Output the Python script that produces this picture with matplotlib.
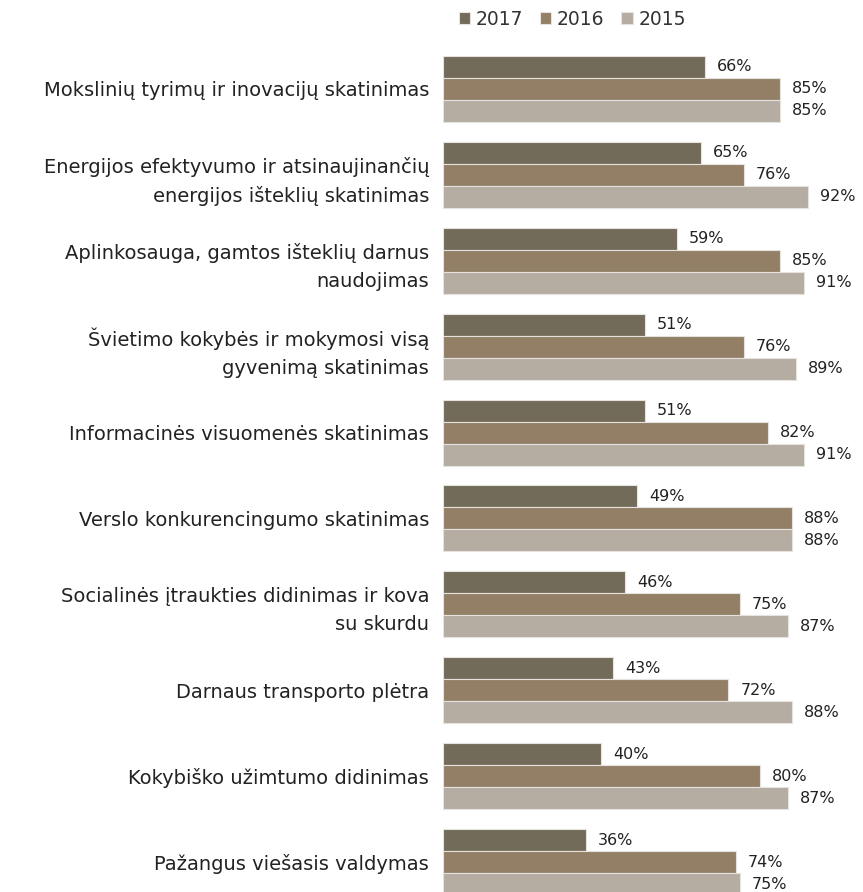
import matplotlib.pyplot as plt
import numpy as np

plt.rcParams['font.family'] = ['DejaVu Sans']

categories = [
    "Mokslinių tyrimų ir inovacijų skatinimas",
    "Energijos efektyvumo ir atsinaujinančių\nenergijos išteklių skatinimas",
    "Aplinkosauga, gamtos išteklių darnus\nnaudojimas",
    "Švietimo kokybės ir mokymosi visą\ngyvenimą skatinimas",
    "Informacinės visuomenės skatinimas",
    "Verslo konkurencingumo skatinimas",
    "Socialinės įtraukties didinimas ir kova\nsu skurdu",
    "Darnaus transporto plėtra",
    "Kokybiško užimtumo didinimas",
    "Pažangus viešasis valdymas",
]
v2017 = [66, 65, 59, 51, 51, 49, 46, 43, 40, 36]
v2016 = [85, 76, 85, 76, 82, 88, 75, 72, 80, 74]
v2015 = [85, 92, 91, 89, 91, 88, 87, 88, 87, 75]

series = [("2017", v2017, "#736b59"), ("2016", v2016, "#927f66"), ("2015", v2015, "#b5ada2")]

fig = plt.figure(figsize=(8.63, 8.92), dpi=100)
ax = fig.add_axes([443 / 863, 0, 420 / 863, 852 / 892])

n = len(categories)
y = np.arange(n)[::-1].astype(float)
h = 0.256
offsets = [h, 0, -h]

# bars + value labels
for (name, vals, col), off in zip(series, offsets):
    bars = ax.barh(y + off, vals, height=h, color=col, edgecolor="#e6e3de", linewidth=0.8, label=name)
    for b, v in zip(bars, vals):
        ax.annotate(f"{v}%", (b.get_width(), b.get_y() + b.get_height() / 2),
                    xytext=(12, 0), textcoords="offset pixels",
                    va="center", ha="left", fontsize=11.5, color="#222222")

ax.set_xlim(0, 106)
ax.set_ylim(-0.349, n - 1 + 0.57)
ax.set_yticks(y)
ax.set_yticklabels(categories, fontsize=14, linespacing=1.55, color="#222222")
ax.tick_params(axis="y", length=0, pad=10)
ax.set_xticks([])
for s in ax.spines.values():
    s.set_visible(False)

leg = fig.legend(loc="upper left", bbox_to_anchor=(442 / 863, 1 + 7 / 892), ncol=3, frameon=False,
                 handlelength=0.6, handleheight=0.6, handletextpad=0.3, columnspacing=0.9,
                 fontsize=13.5)
for t in leg.get_texts():
    t.set_color("#333333")

fig.savefig("out.png", dpi=100)
